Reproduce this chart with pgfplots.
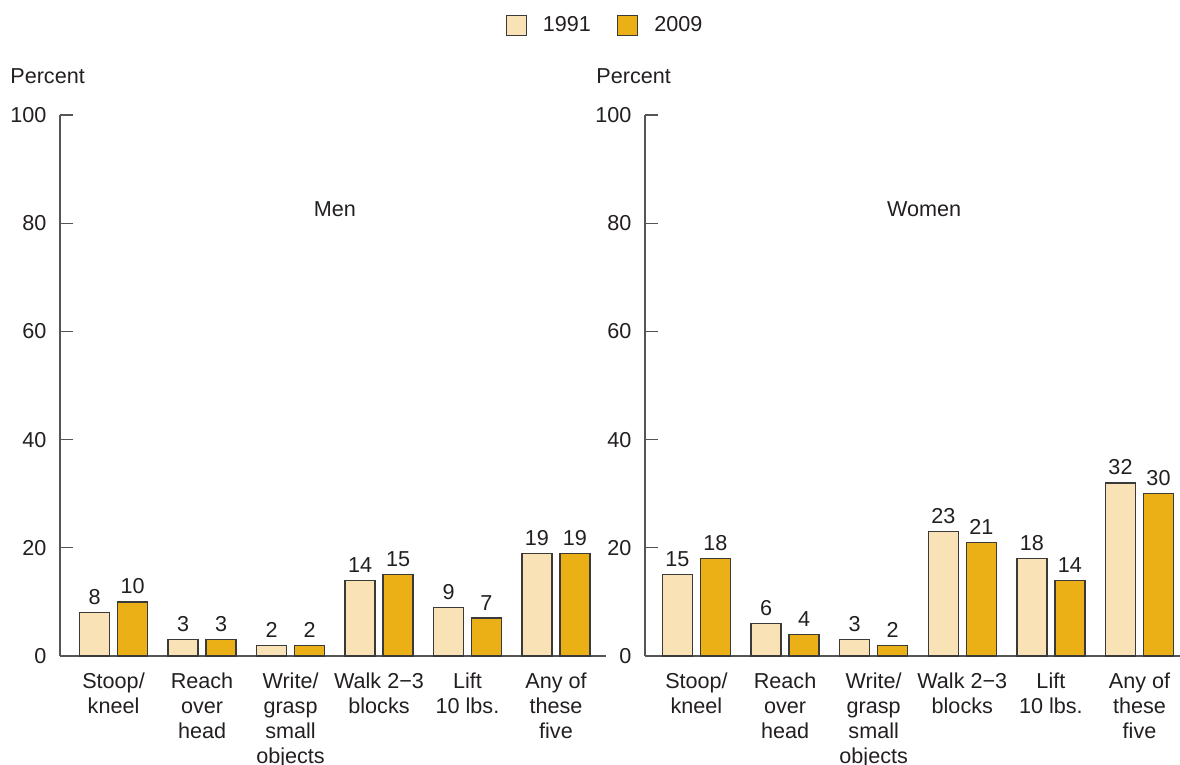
\documentclass[border=0pt]{standalone}
\usepackage{pgfplots}
\usepackage{pgfplotstable}
\pgfplotsset{compat=1.18}
\usepackage{fontspec}
\setmainfont{Liberation Sans}

\definecolor{light}{HTML}{F8E2B6}
\definecolor{gold}{HTML}{EBB016}
\definecolor{edge}{HTML}{3A3A3A}
\definecolor{ink}{HTML}{231F20}
\definecolor{axisgray}{HTML}{555555}

% Share of adults reporting difficulty, by task
\pgfplotstableread{
cat y1991 y2009
0   8   10
1   3   3
2   2   2
3   14  15
4   9   7
5   19  19
}\men
\pgfplotstableread{
cat y1991 y2009
0   15  18
1   6   4
2   3   2
3   23  21
4   18  14
5   32  30
}\women

\pgfplotsset{
  panel/.style={
    scale only axis, height=270.5pt,
    ymin=0, ymax=100, ytick={0,20,...,100},
    axis x line=bottom, axis y line=left,
    axis line style={-, draw=axisgray, line width=0.65pt},
    tick align=inside, major tick length=6.5pt,
    ytick style={draw=axisgray, line width=0.65pt},
    xtick style={draw=none},
    xtick=data,
    xticklabels={Stoop/\\kneel, Reach\\over\\head, Write/\\grasp\\small\\objects,
                 Walk 2−3\\blocks, Lift\\10 lbs., Any of\\these\\five},
    xticklabel style={align=center, text=ink, yshift=2pt},
    yticklabel style={text=ink, xshift=-3pt},
    /pgf/number format/assume math mode=true,
    ybar=4pt, bar width=15pt,
    nodes near coords,
    nodes near coords style={text=ink},
    every axis plot/.append style={draw=edge, line width=0.65pt},
    legend image code/.code={\draw[#1, draw=edge] (0pt,-5pt) rectangle (10pt,5pt);},
    clip=false,
  }
}

\begin{document}
\fontsize{10.8}{12.5}\selectfont
\begin{tikzpicture}
\useasboundingbox (0,0) rectangle (590pt,382.5pt);

\begin{axis}[panel, at={(30pt,54.5pt)}, anchor=south west,
  width=273pt, xmin=-0.605, xmax=5.565,
  legend style={at={(1.0,1.166)}, anchor=center, draw=none, fill=none,
    legend columns=2, text=ink,
    /tikz/every odd column/.append style={column sep=6pt},
    /tikz/every even column/.append style={column sep=11pt}},
  legend entries={1991,2009}]
  \addplot[fill=light] table[x=cat, y=y1991] {\men};
  \addplot[fill=gold]  table[x=cat, y=y2009] {\men};
  \node[text=ink] at (axis cs:2.5,82.6) {Men};
  \node[anchor=base west, inner sep=0pt, text=ink] at (axis description cs:-0.0916,1.059) {Percent};
\end{axis}

\begin{axis}[panel, at={(322.5pt,54.5pt)}, anchor=south west,
  width=267.5pt, xmin=-0.581, xmax=5.457]
  \addplot[fill=light] table[x=cat, y=y1991] {\women};
  \addplot[fill=gold]  table[x=cat, y=y2009] {\women};
  \node[text=ink] at (axis cs:2.57,82.6) {Women};
  \node[anchor=base west, inner sep=0pt, text=ink] at (axis description cs:-0.0916,1.059) {Percent};
\end{axis}
\end{tikzpicture}
\end{document}
